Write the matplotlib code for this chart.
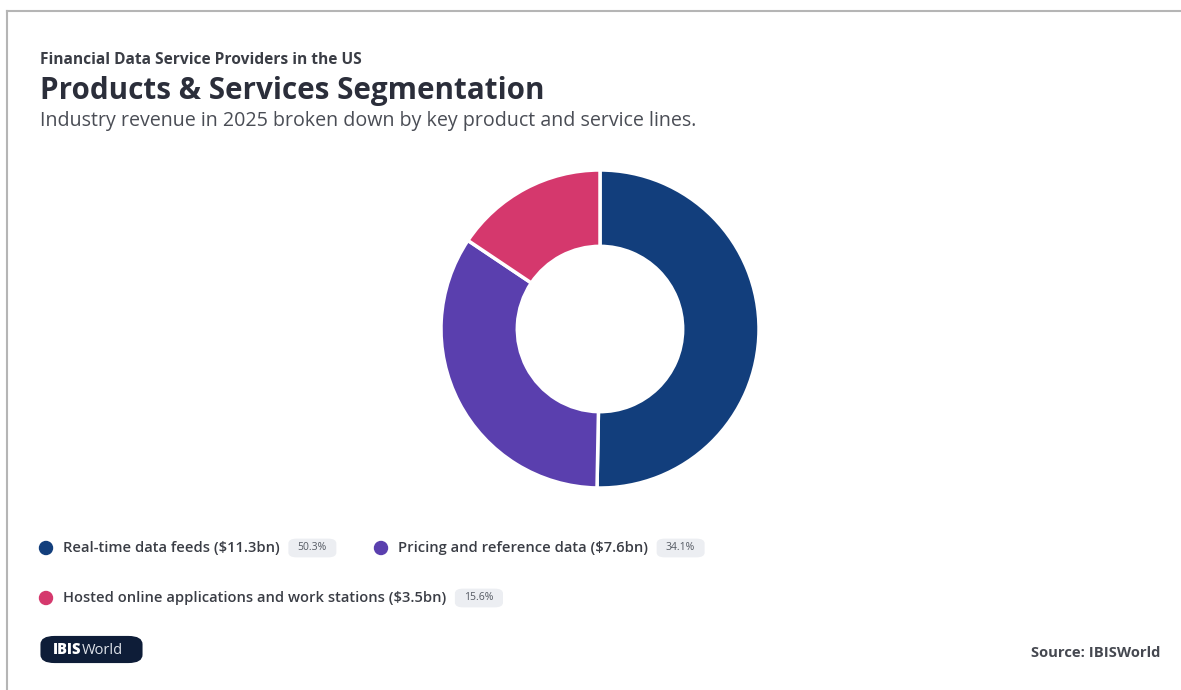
import matplotlib
matplotlib.use("Agg")
import matplotlib.pyplot as plt
from matplotlib.patches import FancyBboxPatch, Ellipse

# data
segments = ["Real-time data feeds", "Pricing and reference data",
            "Hosted online applications and work stations"]
revenue_bn = [11.3, 7.6, 3.5]
shares = [50.3, 34.1, 15.6]
colors = ["#123e7c", "#5a3fae", "#d5386d"]

W, H = 1181, 690
plt.rcParams["font.family"] = ["Open Sans", "DejaVu Sans"]
fig = plt.figure(figsize=(W / 100, H / 100), dpi=100)
fig.patch.set_facecolor("white")


def fx(x):
    return x / W


def fy(y):
    return 1 - y / H


# frame lines (top and left)
fig.add_artist(plt.Line2D([fx(7), 1], [fy(11), fy(11)], color="#b5b5b5", lw=1.5))
fig.add_artist(plt.Line2D([fx(7), fx(7)], [fy(11), 0], color="#b5b5b5", lw=1.5))

# titles
fig.text(fx(40), fy(60), "Financial Data Service Providers in the US", fontsize=11.2,
         fontweight="bold", color="#3a3d45", va="center")
fig.text(fx(40), fy(91), "Products & Services Segmentation", fontsize=21.3,
         fontweight="bold", color="#2b2e3a", va="center")
fig.text(fx(40), fy(121), "Industry revenue in 2025 broken down by key product and service lines.",
         fontsize=14.1, color="#4a4d55", va="center")

# donut
cx, cy, r = 600, 329, 159
ax = fig.add_axes([fx(cx - r), fy(cy + r), 2 * r / W, 2 * r / H])
ax.pie(shares, colors=colors, startangle=90, counterclock=False,
       wedgeprops=dict(width=0.48, edgecolor="white", linewidth=2.5))
ax.set_xlim(-1, 1)
ax.set_ylim(-1, 1)
ax.set_aspect("equal")
ax.axis("off")

# legend
renderer = fig.canvas.get_renderer()
rows = [(46, 548), (381, 548), (46, 598)]
for i, (lx, ly) in enumerate(rows):
    fig.add_artist(Ellipse((fx(lx), fy(ly)), 13 / W, 13 / H, color=colors[i],
                           transform=fig.transFigure))
    t = fig.text(fx(lx + 17), fy(ly), f"{segments[i]} (${revenue_bn[i]}bn)",
                 fontsize=10.6, fontweight="semibold", color="#3a3d45", va="center")
    bb = t.get_window_extent(renderer)
    px = bb.x1 + 18
    pill = fig.text(px / W, fy(ly), f"{shares[i]}%", fontsize=7.5, color="#555a63",
                    va="center", ha="left")
    pb = pill.get_window_extent(renderer)
    fig.add_artist(FancyBboxPatch((fx(pb.x0 - 7), fy(ly + 8)), (pb.width + 14) / W, 16 / H,
                                  boxstyle="round,pad=0.002,rounding_size=0.007",
                                  facecolor="#eceef2", edgecolor="none",
                                  transform=fig.transFigure, zorder=0))

# logo
fig.add_artist(FancyBboxPatch((fx(44), fy(661)), 95 / W, 23 / H,
                              boxstyle="round,pad=0.003,rounding_size=0.012",
                              facecolor="#0e1d38", edgecolor="none",
                              transform=fig.transFigure))
lt = fig.text(fx(53), fy(650), "IBIS", fontsize=10.5, fontweight="heavy",
              color="white", va="center")
lb = lt.get_window_extent(renderer)
fig.text(lb.x1 / W, fy(650), "World", fontsize=10.5, color="#dfe3ea", va="center")

fig.text(fx(1160), fy(653), "Source: IBISWorld", fontsize=10.6, fontweight="bold",
         color="#454850", va="center", ha="right")

fig.savefig("out.png", dpi=100, facecolor="white")
